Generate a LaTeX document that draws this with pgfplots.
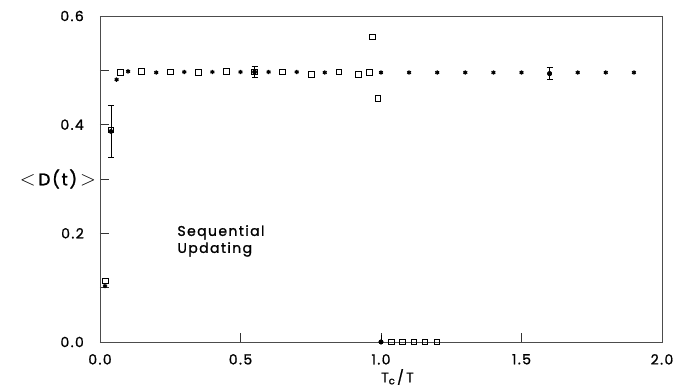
\documentclass[border=0pt]{standalone}
\usepackage{fontspec}
\setmainfont{Poppins}[LetterSpace=10, FakeBold=1.2]
\usepackage{pgfplots}
\pgfplotsset{compat=1.18}
\usetikzlibrary{calc}
\begin{document}
\fontsize{14}{16}\selectfont
\begin{tikzpicture}
\begin{axis}[name=ax, scale only axis, width=562pt, height=326pt,
 xmin=0, xmax=2, ymin=0, ymax=0.6, clip=false,
 axis line style={black!70, line width=0.7pt},
 tick align=inside, major tick length=9pt, tick style={black!80, line width=0.7pt},
 xtick={0,0.5,1,1.5,2}, xticklabels={0.0,0.5,1.0,1.5,2.0},
 ytick={0,0.1,0.2,0.3,0.4,0.5,0.6}, yticklabels={0.0,,0.2,,0.4,,0.6},
 xtick pos=bottom, ytick pos=left,
 xticklabel style={anchor=north, inner sep=0pt, yshift=-12pt},
 yticklabel style={anchor=east, inner sep=0pt, xshift=-16pt},
 xlabel={T\raisebox{-0.25ex}{\fontsize{10}{10}\selectfont c}\,/\,T},
 ylabel={\fontsize{17}{19}\selectfont {\fontsize{20}{20}\selectfont$<$}\,D(t)\,{\fontsize{20}{20}\selectfont$>$}},
 every axis x label/.style={at={(axis description cs:0.5,0)}, anchor=north west, inner sep=0pt, yshift=-27pt},
 every axis y label/.style={at={(axis description cs:0,0.5)}, anchor=east, inner sep=0pt, xshift=-4pt},
]
% open squares
\addplot[only marks, mark=square, mark size=2.8pt, mark options={line width=1pt, black}] coordinates {
(0.019,0.112) (0.039,0.390) (0.073,0.496) (0.148,0.498) (0.25,0.497) (0.35,0.496)
(0.45,0.498) (0.55,0.497) (0.65,0.497) (0.753,0.492) (0.851,0.497) (0.92,0.492)
(0.96,0.496) (0.969,0.561) (0.99,0.448)
(1.038,0) (1.076,0) (1.117,0) (1.156,0) (1.2,0)
};
% stars
\addplot[only marks, mark=asterisk, mark size=2.2pt, mark options={line width=1.2pt, black}] coordinates {
(0.018,0.103) (0.059,0.483) (0.10,0.498) (0.20,0.496) (0.30,0.497) (0.40,0.497)
(0.50,0.497) (0.60,0.497) (0.70,0.497) (0.80,0.496)
(1.0,0.496) (1.1,0.496) (1.2,0.496) (1.3,0.496) (1.4,0.496) (1.5,0.496)
(1.7,0.496) (1.8,0.496) (1.9,0.496)
};
% error bars
\addplot[only marks, mark=none, black, line width=0.7pt,
 error bars/.cd, y dir=both, y explicit,
 error mark options={rotate=90, mark size=3pt, line width=0.7pt, black}] coordinates {
(0.039,0.3875) +- (0,0.048)
(0.55,0.497) +- (0,0.010)
(1.6,0.494) +- (0,0.011)
};
\addplot[only marks, mark=*, mark size=2.2pt, black] coordinates {(1.6,0.494) (1.0,0.0)};
\addplot[only marks, mark=none, black, line width=0.7pt,
 error bars/.cd, y dir=plus, y explicit,
 error mark options={rotate=90, mark size=0pt}] coordinates {(1.0,0.0) +- (0,0.012)};
\node[anchor=base west, inner sep=0pt, align=left, font={\fontsize{14}{17}\selectfont}] at (axis cs:0.275,0.164) {Sequential\\Updating};
\end{axis}
\pgfresetboundingbox
\path[use as bounding box] ($(ax.south west)+(-100pt,-47pt)$) rectangle ($(ax.north east)+(11pt,16pt)$);
\end{tikzpicture}
\end{document}
